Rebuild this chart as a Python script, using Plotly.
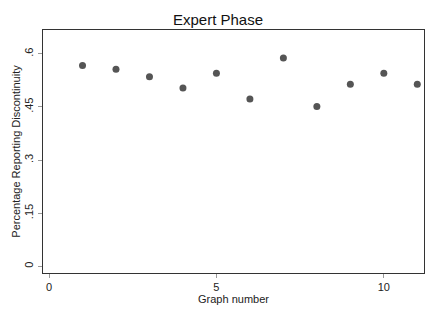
import plotly.graph_objects as go

graph_number = [1, 2, 3, 4, 5, 6, 7, 8, 9, 10, 11]
pct_discontinuity = [0.567, 0.556, 0.535, 0.503, 0.545, 0.472, 0.588, 0.451, 0.514, 0.545, 0.514]

x_ticks = [0, 5, 10]
y_ticks = [0, 0.15, 0.3, 0.45, 0.6]
y_tick_labels = ["0", ".15", ".3", ".45", ".6"]

fig = go.Figure()
fig.add_trace(go.Scatter(
    x=graph_number, y=pct_discontinuity, mode="markers",
    marker=dict(color="#555555", size=7, line=dict(width=0)),
    showlegend=False,
))

axis_common = dict(
    showline=True, linecolor="#333333", linewidth=1.3, mirror=True,
    ticks="outside", ticklen=4, tickcolor="#999999", tickwidth=1,
    showgrid=False, zeroline=False,
    tickfont=dict(family="Liberation Sans, Arial, sans-serif", size=11, color="#222222"),
)

fig.update_layout(
    width=436, height=317,
    margin=dict(l=43, r=12, t=30, b=44),
    paper_bgcolor="white", plot_bgcolor="white",
    font=dict(family="Liberation Sans, Arial, sans-serif", color="#222222"),
    title=dict(text="Expert Phase", x=0.5, xanchor="center", y=0.937, yanchor="middle",
               font=dict(size=15, color="#111111")),
    xaxis=dict(range=[-0.18, 11.2], tickvals=x_ticks, ticktext=[str(v) for v in x_ticks],
               title=dict(text="Graph number", standoff=0, font=dict(size=11)),
               **axis_common),
    yaxis=dict(range=[-0.019, 0.667], tickvals=y_ticks, ticktext=y_tick_labels, tickangle=-90,
               title=dict(text="Percentage Reporting Discontinuity", standoff=0, font=dict(size=11)),
               **axis_common),
)

fig.write_html("out.html", config={"displayModeBar": False},
               post_script="document.body.style.margin='0';document.body.style.overflow='hidden';")
